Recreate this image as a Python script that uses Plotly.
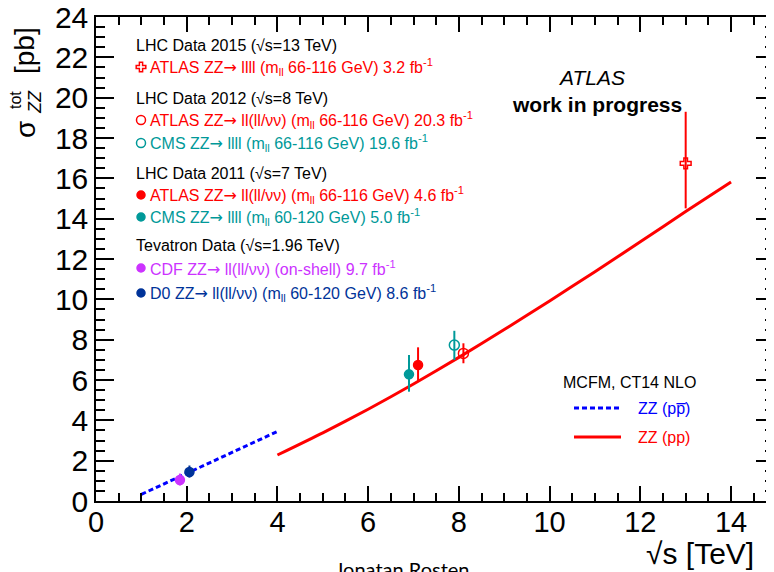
import plotly.graph_objects as go

# ---------------- data ----------------
# Theory predictions (MCFM, CT14 NLO)
ppbar_sqrts = [1.0, 1.5, 2.0, 2.5, 3.0, 3.5, 4.0]
ppbar_xsec = [0.33, 0.85, 1.37, 1.89, 2.41, 2.93, 3.45]

pp_sqrts = [4, 5, 6, 7, 8, 9, 10, 11, 12, 13, 14]
pp_xsec = [2.28, 3.38, 4.55, 5.8, 7.12, 8.5, 9.92, 11.37, 12.85, 14.35, 15.82]

# Measurements
meas_names = ["CDF", "D0", "CMS 7 TeV", "ATLAS 7 TeV", "CMS 8 TeV", "ATLAS 8 TeV", "ATLAS 13 TeV"]
meas_sqrts = [1.85, 2.06, 6.9, 7.1, 7.9, 8.1, 13.0]
meas_xsec = [1.04, 1.44, 6.28, 6.74, 7.73, 7.32, 16.74]
meas_err_up = [0.32, 0.32, 0.96, 0.88, 0.71, 0.50, 2.56]
meas_err_dn = [0.27, 0.28, 0.86, 0.83, 0.74, 0.49, 2.23]

ARROW = "<span style=\"font-family:DejaVu Sans\">→</span>"

# Legend texts
legend_lines = [
    ("head", "LHC Data 2015 (√s=13 TeV)"),
    ("ATLAS 13 TeV", "ATLAS ZZ" + ARROW + " llll (m<sub>ll</sub> 66-116 GeV) 3.2 fb<sup>-1</sup>"),
    ("head", "LHC Data 2012 (√s=8 TeV)"),
    ("ATLAS 8 TeV", "ATLAS ZZ" + ARROW + " ll(ll/νν) (m<sub>ll</sub> 66-116 GeV) 20.3 fb<sup>-1</sup>"),
    ("CMS 8 TeV", "CMS ZZ" + ARROW + " llll (m<sub>ll</sub> 66-116 GeV) 19.6 fb<sup>-1</sup>"),
    ("head", "LHC Data 2011 (√s=7 TeV)"),
    ("ATLAS 7 TeV", "ATLAS ZZ" + ARROW + " ll(ll/νν) (m<sub>ll</sub> 66-116 GeV) 4.6 fb<sup>-1</sup>"),
    ("CMS 7 TeV", "CMS ZZ" + ARROW + " llll (m<sub>ll</sub> 60-120 GeV) 5.0 fb<sup>-1</sup>"),
    ("head", "Tevatron Data (√s=1.96 TeV)"),
    ("CDF", "CDF ZZ" + ARROW + " ll(ll/νν) (on-shell) 9.7 fb<sup>-1</sup>"),
    ("D0", "D0 ZZ" + ARROW + " ll(ll/νν) (m<sub>ll</sub> 60-120 GeV) 8.6 fb<sup>-1</sup>"),
]
legend_y_px = [45, 67, 98, 120, 143, 173, 195, 217, 245, 268, 293]

# ---------------- styles ----------------
RED = "#ff0000"
TEAL = "#009999"
VIOLET = "#cc33ff"
NAVY = "#003399"
BLUE = "#0000ff"
style = {
    "CDF": dict(color=VIOLET, symbol="circle", size=9),
    "D0": dict(color=NAVY, symbol="circle", size=9),
    "CMS 7 TeV": dict(color=TEAL, symbol="circle", size=9),
    "ATLAS 7 TeV": dict(color=RED, symbol="circle", size=9),
    "CMS 8 TeV": dict(color=TEAL, symbol="circle-open", size=10),
    "ATLAS 8 TeV": dict(color=RED, symbol="circle-open", size=10),
    "ATLAS 13 TeV": dict(color=RED, symbol="cross-open", size=9),
}

# page has an 8px body margin -> figure is shifted by OFF
OFF = 8
W, H = 774 - OFF, 572 - OFF
L, R, T, B = 96, 774, 17, 501          # plot area in screen pixels
XMAX = (R - L) / 45.36


def pxx(p):
    return (p - L) / (R - L)


def pxy(p):
    return (B - p) / (B - T)


FONT = "Liberation Sans, Arial, Helvetica, sans-serif"

fig = go.Figure()

fig.add_trace(go.Scatter(x=ppbar_sqrts, y=ppbar_xsec, mode="lines",
                         line=dict(color=BLUE, width=3, dash="5px,3px"),
                         showlegend=False, hoverinfo="skip"))
fig.add_trace(go.Scatter(x=pp_sqrts, y=pp_xsec, mode="lines",
                         line=dict(color=RED, width=3, shape="spline", smoothing=0.6),
                         showlegend=False, hoverinfo="skip"))

for n, x, y, up, dn in zip(meas_names, meas_sqrts, meas_xsec, meas_err_up, meas_err_dn):
    s = style[n]
    fig.add_trace(go.Scatter(
        x=[x], y=[y], mode="markers", name=n, showlegend=False,
        marker=dict(symbol=s["symbol"], size=s["size"], color=s["color"],
                    line=dict(color=s["color"], width=1.5)),
        error_y=dict(type="data", symmetric=False, array=[up], arrayminus=[dn],
                     color=s["color"], thickness=2, width=0),
    ))

annotations = []
for (key, text), ypix in zip(legend_lines, legend_y_px):
    if key == "head":
        annotations.append(dict(x=pxx(134), y=pxy(ypix),
                                text=text, xanchor="left",
                                font=dict(family=FONT, size=16, color="black")))
    else:
        s = style[key]
        fig.add_trace(go.Scatter(
            x=[141], y=[ypix], xaxis="x3", yaxis="y3", mode="markers", showlegend=False,
            hoverinfo="skip",
            marker=dict(symbol=s["symbol"], size=s["size"] - 1, color=s["color"],
                        line=dict(color=s["color"], width=1.5))))
        annotations.append(dict(x=pxx(148), y=pxy(ypix),
                                text=text, xanchor="left",
                                font=dict(family=FONT, size=16, color=s["color"])))

# lower-right theory legend
fig.add_trace(go.Scatter(x=[574, 621], y=[408, 408], xaxis="x3", yaxis="y3", mode="lines",
                         line=dict(color=BLUE, width=3, dash="5px,3px"), showlegend=False,
                         hoverinfo="skip"))
fig.add_trace(go.Scatter(x=[574, 621], y=[437, 437], xaxis="x3", yaxis="y3", mode="lines",
                         line=dict(color=RED, width=3), showlegend=False, hoverinfo="skip"))

annotations += [
    dict(x=pxx(561), y=pxy(382), text="MCFM, CT14 NLO", xanchor="left",
         font=dict(family=FONT, size=16, color="black")),
    dict(x=pxx(636), y=pxy(408), text="ZZ (pp\u0305)", xanchor="left",
         font=dict(family=FONT, size=16, color=BLUE)),
    dict(x=pxx(636), y=pxy(438), text="ZZ (pp)", xanchor="left",
         font=dict(family=FONT, size=16, color=RED)),
    dict(x=pxx(591), y=pxy(77), text="<i>ATLAS</i>", xanchor="center",
         font=dict(family=FONT, size=21, color="black")),
    dict(x=pxx(597), y=pxy(105), text="<b>work in progress</b>", xanchor="center",
         font=dict(family=FONT, size=21, color="black")),
    # x axis title
    dict(x=pxx(756), y=pxy(553), text="√s [TeV]", xanchor="right",
         font=dict(family=FONT, size=30, color="black")),
    # y axis title pieces
    dict(x=pxx(25), y=pxy(51), text="[pb]", textangle=-90, xanchor="center",
         font=dict(family=FONT, size=28, color="black")),
    dict(x=pxx(25), y=pxy(130), text="σ", textangle=-90, xanchor="center",
         font=dict(family=FONT, size=28, color="black")),
    dict(x=pxx(35), y=pxy(102), text="<i>ZZ</i>", textangle=-90, xanchor="center",
         font=dict(family=FONT, size=18, color="black")),
    dict(x=pxx(15), y=pxy(100), text="tot", textangle=-90, xanchor="center",
         font=dict(family=FONT, size=16, color="black")),
    # footer
    dict(x=pxx(402), y=pxy(569), text="Jonatan Rosten", xanchor="center",
         font=dict(family="Lato, sans-serif", size=20, color="black")),
]
for a in annotations:
    a.setdefault("xref", "paper")
    a.setdefault("yref", "paper")
    a.setdefault("showarrow", False)
    a.setdefault("yanchor", "middle")

axis_common = dict(showgrid=False, zeroline=False, showline=True, linecolor="black",
                   linewidth=1.5, ticks="inside", tickcolor="black", tickwidth=1.5,
                   mirror="ticks", ticklabeloverflow="allow", automargin=False)

fig.update_layout(
    width=W, height=H,
    margin=dict(l=L - OFF, r=0, t=T - OFF, b=H - (B - OFF), pad=0, autoexpand=False),
    paper_bgcolor="white", plot_bgcolor="white",
    showlegend=False,
    xaxis=dict(range=[0, XMAX], dtick=2, tick0=0, ticklen=15, ticklabelstandoff=-6,
               tickfont=dict(family=FONT, size=29, color="black"),
               minor=dict(dtick=0.5, ticklen=8, ticks="inside", tickcolor="black", tickwidth=1.5),
               **axis_common),
    yaxis=dict(range=[0, 24], dtick=2, tick0=0, ticklen=18,
               tickfont=dict(family=FONT, size=30, color="black"),
               minor=dict(dtick=0.5, ticklen=9, ticks="inside", tickcolor="black", tickwidth=1.5),
               **axis_common),
    xaxis3=dict(overlaying="x", range=[L, R], visible=False, anchor="y3", automargin=False),
    yaxis3=dict(overlaying="y", range=[B, T], visible=False, anchor="x3", automargin=False),
    annotations=annotations,
)

fig.write_html("out.html")
